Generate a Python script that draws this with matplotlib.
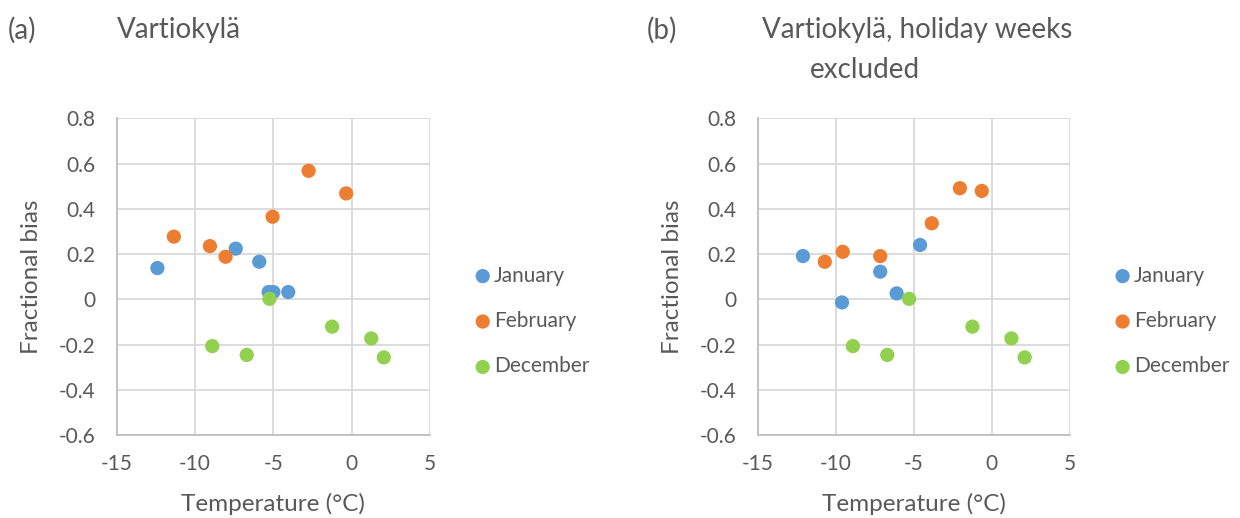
import numpy as np
import matplotlib
matplotlib.use("Agg")
import matplotlib.pyplot as plt

## Data

# (a) Vartiokylä
a_jan_t = [-12.4, -7.4, -5.9, -5.3, -5.0, -4.05]
a_jan_b = [0.138, 0.224, 0.166, 0.032, 0.032, 0.032]
a_feb_t = [-11.35, -9.05, -8.05, -5.05, -2.75, -0.35]
a_feb_b = [0.277, 0.235, 0.188, 0.365, 0.568, 0.468]
a_dec_t = [-5.25, -8.9, -6.7, -1.25, 1.25, 2.05]
a_dec_b = [0.002, -0.207, -0.246, -0.121, -0.173, -0.257]

# (b) Vartiokylä, holiday weeks excluded
b_jan_t = [-12.1, -4.6, -7.15, -6.1, -9.6]
b_jan_b = [0.191, 0.240, 0.122, 0.026, -0.014]
b_feb_t = [-10.7, -9.55, -7.15, -3.85, -2.05, -0.65]
b_feb_b = [0.166, 0.210, 0.191, 0.336, 0.491, 0.479]
b_dec_t = [-5.3, -8.9, -6.7, -1.25, 1.25, 2.1]
b_dec_b = [0.002, -0.207, -0.246, -0.121, -0.173, -0.257]

series_names = ["January", "February", "December"]
series_colors = ["#5B9BD5", "#ED7D31", "#92D050"]

xticks = [-15, -10, -5, 0, 5]
yticks = [-0.6, -0.4, -0.2, 0, 0.2, 0.4, 0.6, 0.8]
ytick_labels = ["-0.6", "-0.4", "-0.2", "0", "0.2", "0.4", "0.6", "0.8"]

TXT = "#595959"
GRID = "#D9D9D9"
plt.rcParams['font.family'] = ['Lato', 'DejaVu Sans']
plt.rcParams['axes.unicode_minus'] = False

fig = plt.figure(figsize=(12.4, 5.18), dpi=100)


def panel(rect, data):
    ax = fig.add_axes(rect)
    for (t, b), name, col in zip(data, series_names, series_colors):
        ax.scatter(t, b, s=105, color=col, edgecolors='none', label=name, zorder=3)
    ax.set_xlim(-15, 5)
    ax.set_ylim(-0.6, 0.8)
    ax.set_xticks(xticks)
    ax.set_yticks(yticks)
    ax.set_yticklabels(ytick_labels)
    ax.grid(True, color=GRID, linewidth=1.3, zorder=0)
    ax.set_axisbelow(True)
    for s in ['top', 'right']:
        ax.spines[s].set_visible(False)
    for s in ['left', 'bottom']:
        ax.spines[s].set_color("#BFBFBF")
        ax.spines[s].set_linewidth(1.3)
    ax.tick_params(length=0, labelsize=15, labelcolor=TXT)
    ax.tick_params(axis='y', pad=15)
    ax.tick_params(axis='x', pad=14)
    ax.set_xlabel("Temperature (°C)", fontsize=17.5, color=TXT, labelpad=13)
    ax.set_ylabel("Fractional bias", fontsize=17.5, color=TXT, labelpad=12)
    ax.legend(frameon=False, loc='center left', bbox_to_anchor=(1.075, 0.36),
              fontsize=15, labelspacing=1.22, handletextpad=0.05,
              handlelength=1.0, labelcolor=TXT, scatterpoints=1)
    return ax


ax1 = panel([0.0941, 0.1602, 0.2527, 0.6114],
            [(a_jan_t, a_jan_b), (a_feb_t, a_feb_b), (a_dec_t, a_dec_b)])
ax2 = panel([0.6110, 0.1602, 0.2519, 0.6114],
            [(b_jan_t, b_jan_b), (b_feb_t, b_feb_b), (b_dec_t, b_dec_b)])

# panel titles
fig.text(8 / 1240, 1 - 30 / 518, "(a)", fontsize=20, color=TXT, va='center')
fig.text(117 / 1240, 1 - 30 / 518, "Vartiokylä", fontsize=20, color=TXT, va='center')
fig.text(647 / 1240, 1 - 30 / 518, "(b)", fontsize=20, color=TXT, va='center')
fig.text(762 / 1240, 1 - 30 / 518, "Vartiokylä, holiday weeks", fontsize=20, color=TXT, va='center')
fig.text(810 / 1240, 1 - 70 / 518, "excluded", fontsize=20, color=TXT, va='center')

fig.savefig("out.png", dpi=100)
